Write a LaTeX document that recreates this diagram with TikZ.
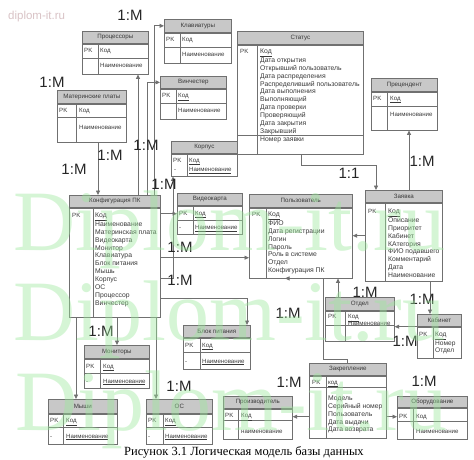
\documentclass[tikz,border=0pt]{standalone}
\usepackage{fontspec}
\setmainfont{Liberation Sans}
\newfontfamily\capfont{Liberation Serif}
\usetikzlibrary{arrows.meta}
\definecolor{linegray}{HTML}{707070}
\definecolor{headgray}{HTML}{C8C8C8}
\definecolor{textgray}{HTML}{3A3A3A}
\definecolor{wmgreen}{HTML}{9CE89C}
\definecolor{wmpink}{HTML}{D9C3C6}
\tikzset{
  ehead/.style={draw=linegray, fill=headgray, line width=0.7pt, anchor=north west, inner sep=0pt, text=textgray, font=\fontsize{6.2}{7}\selectfont},
  ebody/.style={draw=linegray, fill=white, line width=0.7pt, anchor=north west, inner sep=0pt},
  eline/.style={draw=linegray, line width=0.7pt},
  etext/.style={anchor=base west, inner sep=0pt, text=textgray, font=\fontsize{6.1}{7}\selectfont},
  elist/.style={anchor=north west, inner sep=0pt, align=left, text=textgray, font=\fontsize{6.8}{7.85}\selectfont},
  conn/.style={draw=linegray, line width=0.8pt, -{Triangle[length=4.5pt,width=4pt]}},
  card/.style={inner sep=0pt, text=black!85, font=\fontsize{15}{18}\selectfont},
  wm/.style={anchor=base west, inner sep=0pt, text=wmgreen, opacity=0.42, font=\capfont\fontsize{86}{90}\selectfont}
}
\newcommand{\ertable}[7]{%
  \node[ehead, minimum width=#4pt, minimum height=#5pt] (#1-h) at (#2,#3) {#7};
  \node[ebody, minimum width=#4pt, minimum height=#6pt] (#1) at (#1-h.south west) {};
}

\begin{document}
\begin{tikzpicture}[x=1pt, y=-1pt]
  \fill[white] (0,0) rectangle (474,460);
  \useasboundingbox (0,0) rectangle (474,460);
  \node[anchor=base west, inner sep=0pt, text=wmpink, font=\fontsize{11.5}{12}\selectfont] (site) at (8,20) {diplom-it.ru};

  \ertable{proc}{82}{31}{66}{12}{30}{Процессоры}
  \draw[eline] (proc.north west) ++(16,0) -- ++(0,30);
  \draw[eline] (proc.north west) ++(0,15) -- ++(66,0);
  \node[etext] (proc-pk) at (84,53) {PK};
  \node[etext] (proc-k) at (100,53) {Код};
  \node[etext] (proc-n) at (100,68) {Наименование};

  \ertable{kbd}{164}{19}{67}{13}{30}{Клавиатуры}
  \draw[eline] (kbd.north west) ++(16,0) -- ++(0,30);
  \draw[eline] (kbd.north west) ++(0,15) -- ++(67,0);
  \node[etext] (kbd-pk) at (166,42) {PK};
  \node[etext] (kbd-k) at (182,42) {Код};
  \node[etext] (kbd-n) at (182,57) {Наименование};

  \ertable{hdd}{160}{76}{66}{12}{30}{Винчестер}
  \draw[eline] (hdd.north west) ++(16,0) -- ++(0,30);
  \draw[eline] (hdd.north west) ++(0,15) -- ++(66,0);
  \node[etext] (hdd-pk) at (162,98) {PK};
  \node[etext] (hdd-k) at (178,98) {\underline{Код}};
  \node[etext] (hdd-n) at (178,113) {Наименование};

  \ertable{mb}{57}{90}{69}{13}{38}{Материнские платы}
  \draw[eline] (mb.north west) ++(19,0) -- ++(0,38);
  \draw[eline] (mb.north west) ++(0,14) -- ++(69,0);
  \node[etext] (mb-pk) at (59,112.5) {PK};
  \node[etext] (mb-k) at (79,112.5) {Код};
  \node[etext] (mb-n) at (79,129.5) {Наименование};

  \ertable{case}{171}{141}{66}{12}{22}{Корпус}
  \draw[eline] (case.north west) ++(16,0) -- ++(0,22);
  \node[etext] (case-pk) at (173,162) {PK};
  \node[etext] (case-d) at (174,171.5) {-};
  \node[etext] (case-k) at (189,162) {\underline{Код}};
  \node[etext] (case-n) at (189,171.5) {\underline{Наименование}};

  \ertable{stat}{237}{31}{126}{13}{109}{Статус}
  \draw[eline] (stat.north west) ++(20,0) -- ++(0,109);
  \draw[eline] (stat.north west) ++(0,91) -- ++(126,0);
  \node[etext] (stat-pk) at (240,53.5) {PK};
  \node[elist] (stat-l) at (260,48.6) {\underline{Код}\\Дата открытия\\Открывший пользователь\\Дата распределения\\Распределивший пользователь\\Дата выполнения\\Выполняющий\\Дата проверки\\Проверяющий\\Дата закрытия\\Закрывший};
  \node[etext, font=\fontsize{6.8}{7.85}\selectfont] (stat-n) at (260,141) {Номер заявки};

  \ertable{prec}{371}{78}{66}{13}{38}{Прецендент}
  \draw[eline] (prec.north west) ++(16,0) -- ++(0,38);
  \draw[eline] (prec.north west) ++(0,15) -- ++(66,0);
  \node[etext] (prec-pk) at (373,100) {PK};
  \node[etext] (prec-k) at (390,100) {\underline{Код}};
  \node[etext] (prec-n) at (390,116.5) {Наименование};

  \ertable{conf}{69}{195}{91}{12}{109}{Конфигурация ПК}
  \draw[eline] (conf.north west) ++(24,0) -- ++(0,109);
  \node[etext] (conf-pk) at (72,217.5) {PK};
  \node[elist] (conf-l) at (95,212.6) {\underline{Код}\\Наименование\\Материнская плата\\Видеокарта\\Монитор\\Клавиатура\\Блок питания\\Мышь\\Корпус\\ОС\\Процессор\\Винчестер};

  \ertable{video}{177}{193}{65}{12}{28}{Видеокарта}
  \draw[eline] (video.north west) ++(16,0) -- ++(0,28);
  \draw[eline] (video.north west) ++(0,15) -- ++(65,0);
  \node[etext] (video-pk) at (179,215) {PK};
  \node[etext] (video-k) at (195,215) {\underline{Код}};
  \node[etext] (video-d) at (179,229.5) {-};
  \node[etext] (video-n) at (195,229.5) {\underline{Наименование}};

  \ertable{user}{249}{194}{103}{13}{70}{Пользователь}
  \draw[eline] (user.north west) ++(17,0) -- ++(0,70);
  \node[etext] (user-pk) at (252,216.5) {PK};
  \node[elist] (user-l) at (268,211.6) {\underline{Код}\\ФИО\\Дата регистрации\\Логин\\Пароль\\Роль в системе\\Отдел\\Конфигурация ПК};

  \ertable{req}{365}{190}{77}{12}{78}{Заявка}
  \draw[eline] (req.north west) ++(20,0) -- ++(0,78);
  \node[etext] (req-pk) at (368,213.5) {PK};
  \node[elist] (req-l) at (388,208.6) {\underline{Код}\\Описание\\Приоритет\\Кабинет\\КАтегория\\ФИО подавшего\\Комментарий\\Дата\\Наименование};

  \ertable{dept}{325}{297}{69}{13}{30}{Отдел}
  \draw[eline] (dept.north west) ++(20,0) -- ++(0,30);
  \draw[eline] (dept.north west) ++(0,15) -- ++(69,0);
  \node[etext] (dept-pk) at (328,318.5) {PK};
  \node[etext] (dept-k) at (348,318.5) {\underline{Код}};
  \node[etext] (dept-n) at (348,325.5) {Наименование};

  \ertable{cab}{417}{314}{44}{12}{31}{Кабинет}
  \draw[eline] (cab.north west) ++(16,0) -- ++(0,31);
  \node[etext] (cab-pk) at (419,336.5) {PK};
  \node[elist, font=\fontsize{6.6}{7.5}\selectfont] (cab-l) at (435,331.8) {\underline{Код}\\Номер\\Отдел};

  \ertable{psu}{183}{325}{67}{12}{31}{Блок питания}
  \draw[eline] (psu.north west) ++(17,0) -- ++(0,31);
  \draw[eline] (psu.north west) ++(0,15) -- ++(67,0);
  \node[etext] (psu-pk) at (185,347) {PK};
  \node[etext] (psu-k) at (202,347) {\underline{Код}};
  \node[etext] (psu-d) at (185,363) {-};
  \node[etext] (psu-n) at (202,363) {\underline{Наименование}};

  \ertable{mon}{84}{345}{65}{13}{29}{Мониторы}
  \draw[eline] (mon.north west) ++(16,0) -- ++(0,29);
  \draw[eline] (mon.north west) ++(0,15) -- ++(65,0);
  \node[etext] (mon-pk) at (86,368) {PK};
  \node[etext] (mon-k) at (103,368) {\underline{Код}};
  \node[etext] (mon-d) at (86,383) {-};
  \node[etext] (mon-n) at (103,383) {\underline{Наименование}};

  \ertable{mice}{48}{399}{69}{14}{30}{Мыши}
  \draw[eline] (mice.north west) ++(15,0) -- ++(0,30);
  \draw[eline] (mice.north west) ++(0,14) -- ++(69,0);
  \node[etext] (mice-pk) at (50,422.5) {PK};
  \node[etext] (mice-k) at (66,422.5) {\underline{Код}};
  \node[etext] (mice-d) at (50,438) {-};
  \node[etext] (mice-n) at (66,438) {\underline{Наименование}};

  \ertable{os}{146}{399}{66}{14}{30}{ОС}
  \draw[eline] (os.north west) ++(17,0) -- ++(0,30);
  \draw[eline] (os.north west) ++(0,14) -- ++(66,0);
  \node[etext] (os-pk) at (148,422.5) {PK};
  \node[etext] (os-k) at (165,422.5) {\underline{Код}};
  \node[etext] (os-d) at (148,438) {-};
  \node[etext] (os-n) at (165,438) {\underline{Наименование}};

  \ertable{fix}{309}{363}{77}{12}{62}{Закрепление}
  \draw[eline] (fix.north west) ++(17,0) -- ++(0,62);
  \draw[eline] (fix.north west) ++(0,12) -- ++(77,0);
  \node[etext] (fix-pk) at (312,384) {PK};
  \node[etext] (fix-k) at (328,384) {\underline{код}};
  \node[elist] (fix-l) at (328,395.6) {Модель\\Серийный номер\\Пользователь\\Дата выдачи\\Дата возврата};

  \ertable{mfr}{223}{396}{69}{12}{30}{Производитель}
  \draw[eline] (mfr.north west) ++(15,0) -- ++(0,30);
  \draw[eline] (mfr.north west) ++(0,12) -- ++(69,0);
  \node[etext] (mfr-pk) at (225,417.5) {PK};
  \node[etext] (mfr-k) at (241,417.5) {\underline{Код}};
  \node[etext] (mfr-n) at (241,433) {наименование};

  \ertable{equip}{397}{396}{70}{11}{31}{Оборудование}
  \draw[eline] (equip.north west) ++(16,0) -- ++(0,31);
  \draw[eline] (equip.north west) ++(0,14) -- ++(70,0);
  \node[etext] (equip-pk) at (399,418.5) {PK};
  \node[etext] (equip-k) at (416,418.5) {Код};
  \node[etext] (equip-n) at (416,433.5) {Наименование};

  \draw[conn] ([xshift=41pt]mb.south west) -- ([xshift=29pt]conf-h.north west);
  \draw[conn] ([xshift=69pt]conf-h.north west) -- ([xshift=56pt]proc.south west);
  \draw[conn] ([xshift=85pt]conf-h.north west) |- (kbd-h.west);
  \draw[conn] ([xshift=78pt]conf-h.north west) |- (hdd-h.west);
  \draw[conn] ([yshift=39pt]conf.south east) -| ([xshift=2pt]case.south west);
  \draw[conn] ([yshift=-6pt]conf.north east) -- ([yshift=-8pt]video.north west);
  \draw[conn] ([yshift=-50pt]conf.north east) -- ([yshift=-50pt]user.north west);
  \draw[conn] ([yshift=19pt]conf.south east) -| ([xshift=64pt]psu-h.north west);
  \draw[conn] ([xshift=48pt]conf.south west) -- ([xshift=33pt]mon-h.north west);
  \draw[conn] ([xshift=7pt]conf.south west) -- ([xshift=28pt]mice-h.north west);
  \draw[conn] ([xshift=87pt]conf.south west) -- ([xshift=10pt]os-h.north west);
  \draw[conn] ([xshift=64pt]stat.south west) -- ++(0,11) -| ([xshift=11pt]req-h.north west);
  \draw[conn] ([xshift=44pt]req-h.north west) -- ([xshift=38pt]prec.south west);
  \draw[conn] ([yshift=-33pt]req.north west) -- ([yshift=-28pt]user.north east);
  \draw[conn] ([xshift=65pt]req.south west) -- ([xshift=13pt]cab-h.north west);
  \draw[conn] ([xshift=13pt]dept-h.north west) -- ([xshift=89pt]user.south west);
  \draw[conn] (cab-h.south west) -- ([yshift=-16pt]dept.north east);
  \draw[conn] ([xshift=38pt]fix-h.north west) -- ++(0,-4) -| ([xshift=74pt]user.south west) -- ([xshift=36pt]user.south west);
  \draw[conn] ([yshift=-41pt]fix.north west) -- ([yshift=-8pt]mfr.north east);
  \draw[conn] ([yshift=-41pt]fix.north east) -- ([yshift=-9pt]equip.north west);

  \node[card] (r-kbd) at (130,15) {1:M};
  \node[card] (r-mb) at (52,82) {1:M};
  \node[card] (r-hdd) at (146,145) {1:M};
  \node[card] (r-proc) at (110,155) {1:M};
  \node[card] (r-conf) at (74,169) {1:M};
  \node[card] (r-case) at (164,184) {1:M};
  \node[card] (r-video) at (180,247) {1:M};
  \node[card] (r-user) at (180,280) {1:M};
  \node[card] (r-psu) at (288,313) {1:M};
  \node[card] (r-mon) at (101,331) {1:M};
  \node[card] (r-os) at (179,386) {1:M};
  \node[card] (r-mfr) at (289,382) {1:M};
  \node[card] (r-equip) at (424,381) {1:M};
  \node[card] (r-cab) at (405,341) {1:M};
  \node[card] (r-dept) at (365,292) {1:M};
  \node[card] (r-req) at (422,299) {1:M};
  \node[card] (r-prec) at (422,161) {1:M};
  \node[card] (r-stat) at (349,173) {1:1};

  \node[anchor=base west, inner sep=0pt, font=\capfont\fontsize{12.5}{14}\selectfont] (caption) at (124,455.5) {Рисунок 3.1 Логическая модель базы данных};

  \node[wm] (wm1) at (13,250) {Diplom-it.ru};
  \node[wm] (wm2) at (13,340) {Diplom-it.ru};
  \node[wm] (wm3) at (15,430) {Diplom-it.ru};
\end{tikzpicture}
\end{document}
